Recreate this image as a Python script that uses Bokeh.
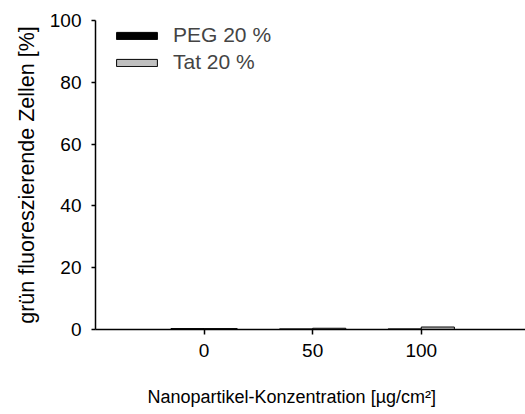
from bokeh.plotting import figure
from bokeh.models import Range1d, FixedTicker, Legend, LegendItem, ColumnDataSource, Title
from bokeh.embed import file_html
from bokeh.resources import INLINE

categories = ["0", "50", "100"]
peg_values = [0.3, 0.2, 0.2]
tat_values = [0.3, 0.4, 0.8]
series_names = ["PEG 20 %", "Tat 20 %"]
x_title = "Nanopartikel-Konzentration [µg/cm²]"
y_title = "grün fluoreszierende Zellen [%]"

FONT = "Liberation Sans"
pos = [1, 2, 3]
bw = 0.305

p = figure(width=525, height=414, output_backend="svg", toolbar_location=None,
           x_range=Range1d(0, 3.96), y_range=Range1d(0, 100),
           min_border_left=95, min_border_right=0, min_border_top=20, min_border_bottom=85)
p.outline_line_color = None
p.grid.grid_line_color = None
p.background_fill_color = "white"

src_peg = ColumnDataSource(dict(x=[x - bw / 2 for x in pos], top=peg_values))
src_tat = ColumnDataSource(dict(x=[x + bw / 2 for x in pos], top=tat_values))
r1 = p.vbar(x="x", top="top", bottom=0, width=bw, source=src_peg,
            fill_color="black", line_color="black", line_width=1)
r2 = p.vbar(x="x", top="top", bottom=0, width=bw, source=src_tat,
            fill_color="#c0c0c0", line_color="black", line_width=1)

legend = Legend(items=[LegendItem(label=series_names[0], renderers=[r1]),
                       LegendItem(label=series_names[1], renderers=[r2])],
                location=(16, 255))
legend.border_line_color = None
legend.background_fill_alpha = 0
legend.glyph_width = 51
legend.glyph_height = 9
legend.label_height = 24
legend.spacing = 3
legend.padding = 0
legend.margin = 0
legend.label_text_font = FONT
legend.label_text_font_size = "21px"
legend.label_standoff = 11
legend.label_text_baseline = "middle"
p.add_layout(legend)

xa = p.xaxis[0]
xa.ticker = FixedTicker(ticks=pos)
xa.major_label_overrides = {pos[i]: categories[i] for i in range(3)}
xa.minor_tick_line_color = None
xa.major_tick_out = 5
xa.major_tick_in = 0
xa.major_label_standoff = 9

ya = p.yaxis[0]
ya.ticker = FixedTicker(ticks=[0, 20, 40, 60, 80, 100])
ya.minor_tick_line_color = None
ya.major_tick_out = 4
ya.major_tick_in = 0
ya.major_label_standoff = 10
ya.axis_label = y_title
ya.axis_label_standoff = 8
ya.axis_label_text_font_size = "21.5px"

for ax in (xa, ya):
    ax.axis_line_color = "black"
    ax.axis_line_width = 1.5
    ax.major_tick_line_color = "black"
    ax.major_tick_line_width = 1.5
    ax.major_label_text_font = FONT
    ax.major_label_text_font_size = "19px"
    ax.major_label_text_color = "black"
    ax.axis_label_text_font = FONT
    ax.axis_label_text_font_style = "normal"
    ax.axis_label_text_color = "black"

xt = Title(text="\n" + x_title, align="left", offset=52, standoff=10,
           text_font=FONT, text_font_size="18px", text_font_style="normal",
           text_color="black")
p.add_layout(xt, "below")

open("out.html", "w").write(file_html(p, INLINE))
